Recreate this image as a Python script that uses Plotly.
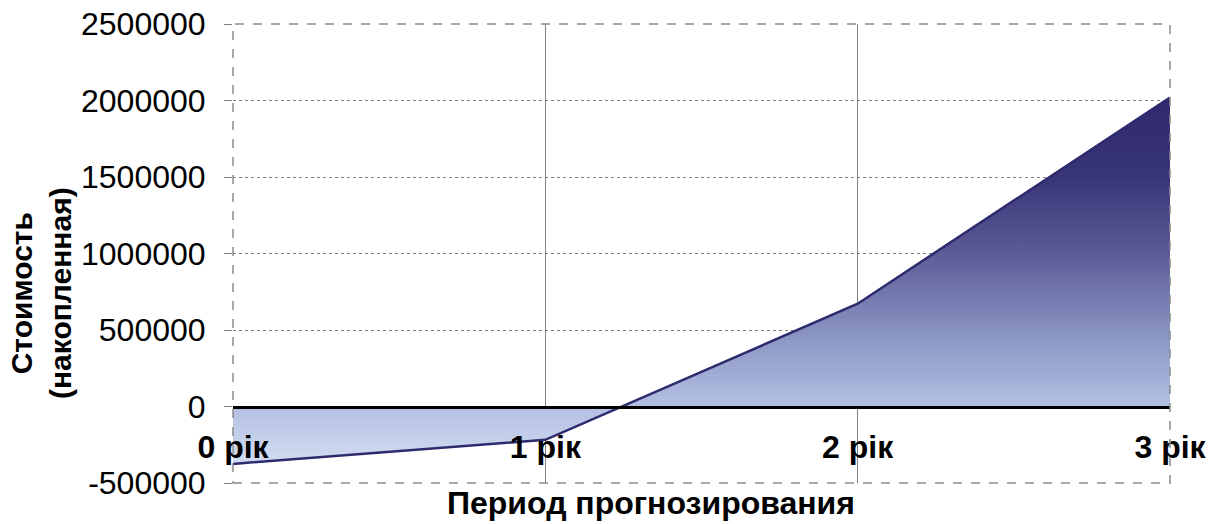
import plotly.graph_objects as go

categories = ["0 рік", "1 рік", "2 рік", "3 рік"]
values = [-375000, -218000, 672000, 2020000]
y_ticks = [-500000, 0, 500000, 1000000, 1500000, 2000000, 2500000]
x_title = "Период прогнозирования"
y_title = "Стоимость<br>(накопленная)"

x_idx = list(range(len(categories)))
ymin, ymax = y_ticks[0], y_ticks[-1]

fig = go.Figure()
fig.add_trace(go.Scatter(
    x=x_idx, y=values, mode="lines", fill="tozeroy",
    line=dict(color="#2E2A6E", width=2.5),
    fillgradient=dict(
        type="vertical",
        colorscale=[[0, "#D2DCF1"], [0.16, "#B3BFE2"], [0.37, "#8690C0"],
                    [0.58, "#5B5A96"], [0.79, "#383577"], [1, "#2E2A6C"]],
    ),
    hoverinfo="skip", showlegend=False,
))

fig.update_layout(
    width=1214, height=524,
    margin=dict(l=233, r=44, t=24, b=41),
    paper_bgcolor="white", plot_bgcolor="white",
    font=dict(family="Liberation Sans, Arial, sans-serif", size=32, color="black"),
    xaxis=dict(
        range=[x_idx[0], x_idx[-1]],
        tickvals=x_idx, ticktext=categories,
        anchor="free", position=(0 - ymin) / (ymax - ymin),
        showline=True, linecolor="black", linewidth=3,
        showgrid=True, gridcolor="#808080", gridwidth=1,
        ticks="", ticklabelstandoff=11,
        tickfont=dict(size=32, weight="bold", color="black"),
        zeroline=False, fixedrange=True, automargin=False,
    ),
    yaxis=dict(
        range=[ymin, ymax], tickvals=y_ticks,
        ticktext=[str(v) for v in y_ticks],
        showgrid=True, gridcolor="#808080", gridwidth=1, griddash="dot",
        ticks="outside", ticklen=8, tickcolor="#808080",
        ticklabelstandoff=12,
        tickfont=dict(size=32, color="black"),
        zeroline=False, showline=False, fixedrange=True, automargin=False,
    ),
    shapes=[dict(type="rect", xref="paper", yref="paper", x0=0, x1=1, y0=0, y1=1,
                 line=dict(color="#8C8C8C", width=1.5, dash="dash"), layer="above")],
    annotations=[
        dict(text=x_title, xref="paper", yref="paper", x=(651 - 233) / 937, y=(483 - 503) / 459,
             xanchor="center", yanchor="middle", showarrow=False,
             font=dict(size=32, weight="bold", color="black")),
        dict(text=y_title, xref="paper", yref="paper", x=(41 - 233) / 937, y=(483 - 293) / 459,
             xanchor="center", yanchor="middle", showarrow=False, textangle=-90,
             font=dict(size=30, weight="bold", color="black")),
    ],
)

fig.write_html("out.html")
